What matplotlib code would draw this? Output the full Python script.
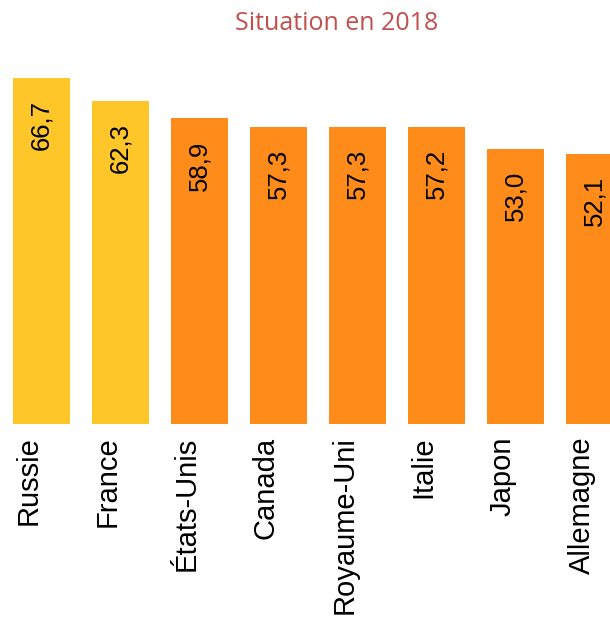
import matplotlib
matplotlib.use("Agg")
import matplotlib.pyplot as plt
from matplotlib.transforms import ScaledTranslation

# Données
pays = ["Russie", "France", "États-Unis", "Canada", "Royaume-Uni",
        "Italie", "Japon", "Allemagne"]
valeurs = [66.7, 62.3, 58.9, 57.3, 57.3, 57.2, 53.0, 52.1]
titre = "Situation en 2018"

# Couleurs : les deux premiers pays en jaune
jaune = "#FFC629"
orange = "#FF8C1A"
couleurs = [jaune if i < 2 else orange for i in range(len(pays))]

plt.rcParams["font.family"] = ["Liberation Sans", "DejaVu Sans"]

W, H = 610, 619
fig = plt.figure(figsize=(W / 100, H / 100), dpi=100)

# axes en pixels : base à y=424, 5.19 px par unité, pas de 79 px
base = 424
ppu = 5.19
ymax = 70
pas = 79
left = 41.5 - 0.5 * pas
ax = fig.add_axes([left / W, (H - base) / H, 8 * pas / W, ymax * ppu / H])

x = range(len(pays))
ax.bar(x, valeurs, width=0.72, color=couleurs)
ax.set_xlim(-0.5, 7.5)
ax.set_ylim(0, ymax)

for xi, v in zip(x, valeurs):
    ax.annotate(f"{v:.1f}".replace(".", ","), (xi, v), xytext=(0, -22),
                textcoords="offset pixels", rotation=90,
                ha="center", va="top", fontsize=18.5, color="black")

ax.set_xticks(list(x))
ax.set_xticklabels(pays, rotation=90, fontsize=21, rotation_mode="anchor",
                   ha="right", va="baseline")
ax.tick_params(axis="x", length=0, pad=9)
decal = ScaledTranslation(-5 / 100, 0, fig.dpi_scale_trans)
for lab in ax.get_xticklabels():
    lab.set_transform(lab.get_transform() + decal)
ax.set_yticks([])
for s in ax.spines.values():
    s.set_visible(False)

fig.text(337 / W, 1 - 23 / H, titre, ha="center", va="center",
         fontsize=18, color="#C0504D", family=["Open Sans", "DejaVu Sans"])

fig.savefig("out.png", dpi=100)
